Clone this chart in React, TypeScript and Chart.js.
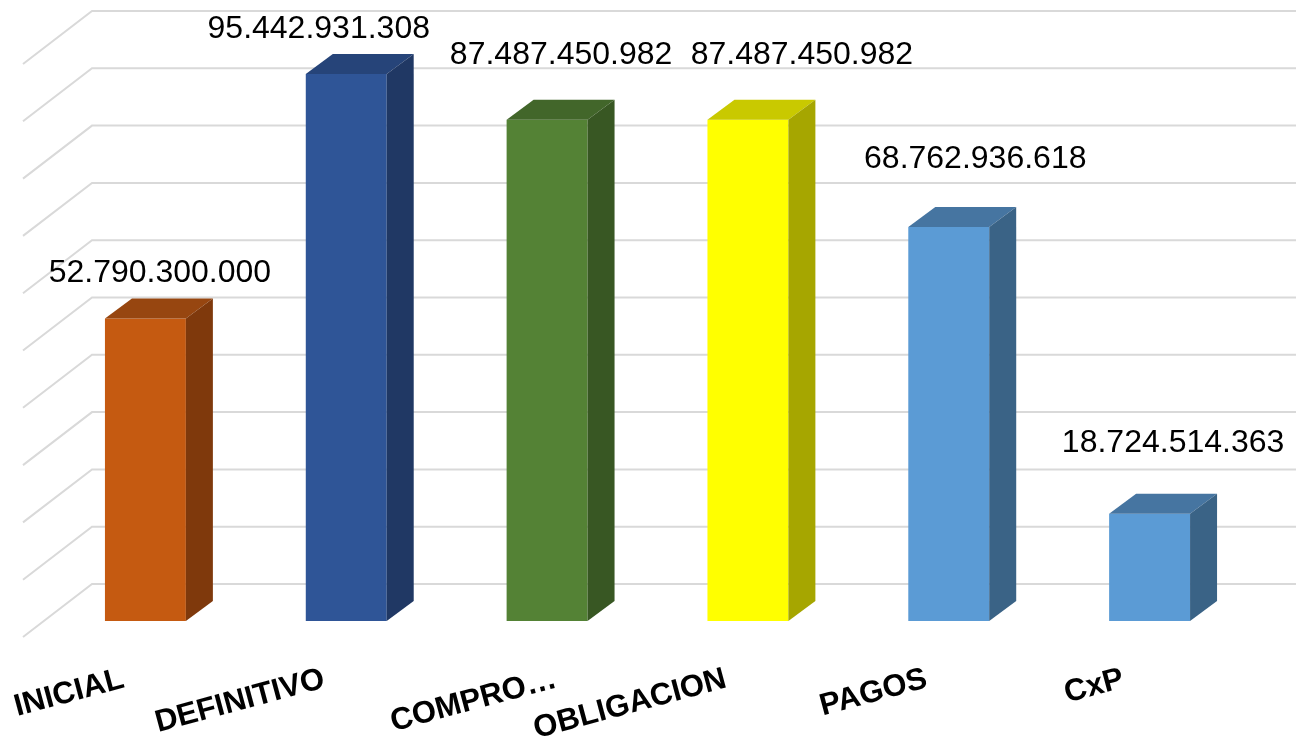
import React, { useEffect, useRef } from 'react';
import { Chart, registerables } from 'chart.js';

Chart.register(...registerables);

// ---- data ----
const CATEGORIES = ['INICIAL', 'DEFINITIVO', 'COMPRO…', 'OBLIGACION', 'PAGOS', 'CxP'];
const VALUES = [52790300000, 95442931308, 87487450982, 87487450982, 68762936618, 18724514363];
const GRID_VALUES = [0, 10e9, 20e9, 30e9, 40e9, 50e9, 60e9, 70e9, 80e9, 90e9, 100e9];

// ---- styles ----
const FRONT_COLORS = ['#C55A11', '#2F5597', '#548235', '#FFFF00', '#5B9BD5', '#5B9BD5'];
const TOP_COLORS = ['#974610', '#264479', '#42662A', '#C9C900', '#4675A1', '#4675A1'];
const SIDE_COLORS = ['#7F390C', '#203864', '#385723', '#A6A600', '#3A6386', '#3A6386'];
const VALUE_LABEL_NUDGE: [number, number][] = [
  [14.5, -25.5],
  [-27.5, -25],
  [14, -44.5],
  [54, -44.5],
  [26.5, -47.5],
  [23.5, -50.5],
];
const CATEGORY_LABEL_NUDGE = [0, 0, 31, 0, 0, -4];

const DEPTH_DX = 27;
const DEPTH_DY = 20;

function formatNumber(v: number): string {
  return String(Math.round(v)).replace(/\B(?=(\d{3})+(?!\d))/g, '.');
}

const threeDPlugin = {
  id: 'threeD',
  beforeDatasetsDraw(chart: any) {
    const { ctx, chartArea, scales } = chart;
    const y = scales.y;
    const wallX = chartArea.left + 47;
    const frontX = chartArea.left - 22;
    ctx.save();
    ctx.strokeStyle = '#d9d9d9';
    ctx.lineWidth = 2;
    for (const v of GRID_VALUES) {
      const yf = y.getPixelForValue(v);
      const yb = yf - 37;
      ctx.beginPath();
      ctx.moveTo(frontX, yf + 16);
      ctx.lineTo(wallX, yb);
      ctx.lineTo(chart.width, yb);
      ctx.stroke();
    }
    ctx.restore();
  },
  afterDatasetsDraw(chart: any) {
    const { ctx, chartArea } = chart;
    const meta = chart.getDatasetMeta(0);
    ctx.save();
    meta.data.forEach((el: any, i: number) => {
      const { x, y, base, width } = el.getProps(['x', 'y', 'base', 'width'], true);
      const l = x - width / 2;
      const r = x + width / 2;
      // top face
      ctx.fillStyle = TOP_COLORS[i];
      ctx.beginPath();
      ctx.moveTo(l, y);
      ctx.lineTo(l + DEPTH_DX, y - DEPTH_DY);
      ctx.lineTo(r + DEPTH_DX, y - DEPTH_DY);
      ctx.lineTo(r, y);
      ctx.closePath();
      ctx.fill();
      // side face
      ctx.fillStyle = SIDE_COLORS[i];
      ctx.beginPath();
      ctx.moveTo(r, y);
      ctx.lineTo(r + DEPTH_DX, y - DEPTH_DY);
      ctx.lineTo(r + DEPTH_DX, base - DEPTH_DY);
      ctx.lineTo(r, base);
      ctx.closePath();
      ctx.fill();

      // value label
      const [nx, ny] = VALUE_LABEL_NUDGE[i];
      ctx.fillStyle = '#000000';
      ctx.font = '32px "Liberation Sans", Arial, sans-serif';
      ctx.textAlign = 'center';
      ctx.textBaseline = 'middle';
      ctx.fillText(formatNumber(VALUES[i]), x + nx, y - DEPTH_DY + ny);

      // category label
      ctx.save();
      ctx.translate(x - 20 + CATEGORY_LABEL_NUDGE[i], chartArea.bottom + 66);
      ctx.rotate((-15 * Math.PI) / 180);
      ctx.font = 'bold 31px "Liberation Sans", Arial, sans-serif';
      ctx.textAlign = 'right';
      ctx.textBaseline = 'alphabetic';
      ctx.fillText(CATEGORIES[i], 0, 0);
      ctx.restore();
    });
    ctx.restore();
  },
};

export default function App() {
  const canvasRef = useRef<HTMLCanvasElement | null>(null);

  useEffect(() => {
    document.body.style.margin = '0';
    document.body.style.overflow = 'hidden';
    const canvas = canvasRef.current;
    if (!canvas) return;
    const chart = new Chart(canvas, {
      type: 'bar',
      data: {
        labels: CATEGORIES,
        datasets: [
          {
            data: VALUES,
            backgroundColor: FRONT_COLORS,
            borderWidth: 0,
            barPercentage: 0.403,
            categoryPercentage: 1.0,
          },
        ],
      },
      options: {
        animation: false,
        responsive: true,
        maintainAspectRatio: false,
        layout: { padding: { left: 45, right: 46, top: 48, bottom: 120 } },
        plugins: {
          legend: { display: false },
          tooltip: { enabled: false },
          title: { display: false },
        },
        scales: {
          x: { display: false, grid: { display: false } },
          y: {
            display: false,
            min: 0,
            max: 100e9,
            ticks: { stepSize: 10e9 },
            grid: { display: false },
          },
        },
      },
      plugins: [threeDPlugin],
    });
    return () => {
      chart.destroy();
    };
  }, []);

  return (
    <div style={{ width: 1296, height: 741, position: 'relative', background: '#ffffff' }}>
      <canvas ref={canvasRef} />
    </div>
  );
}
